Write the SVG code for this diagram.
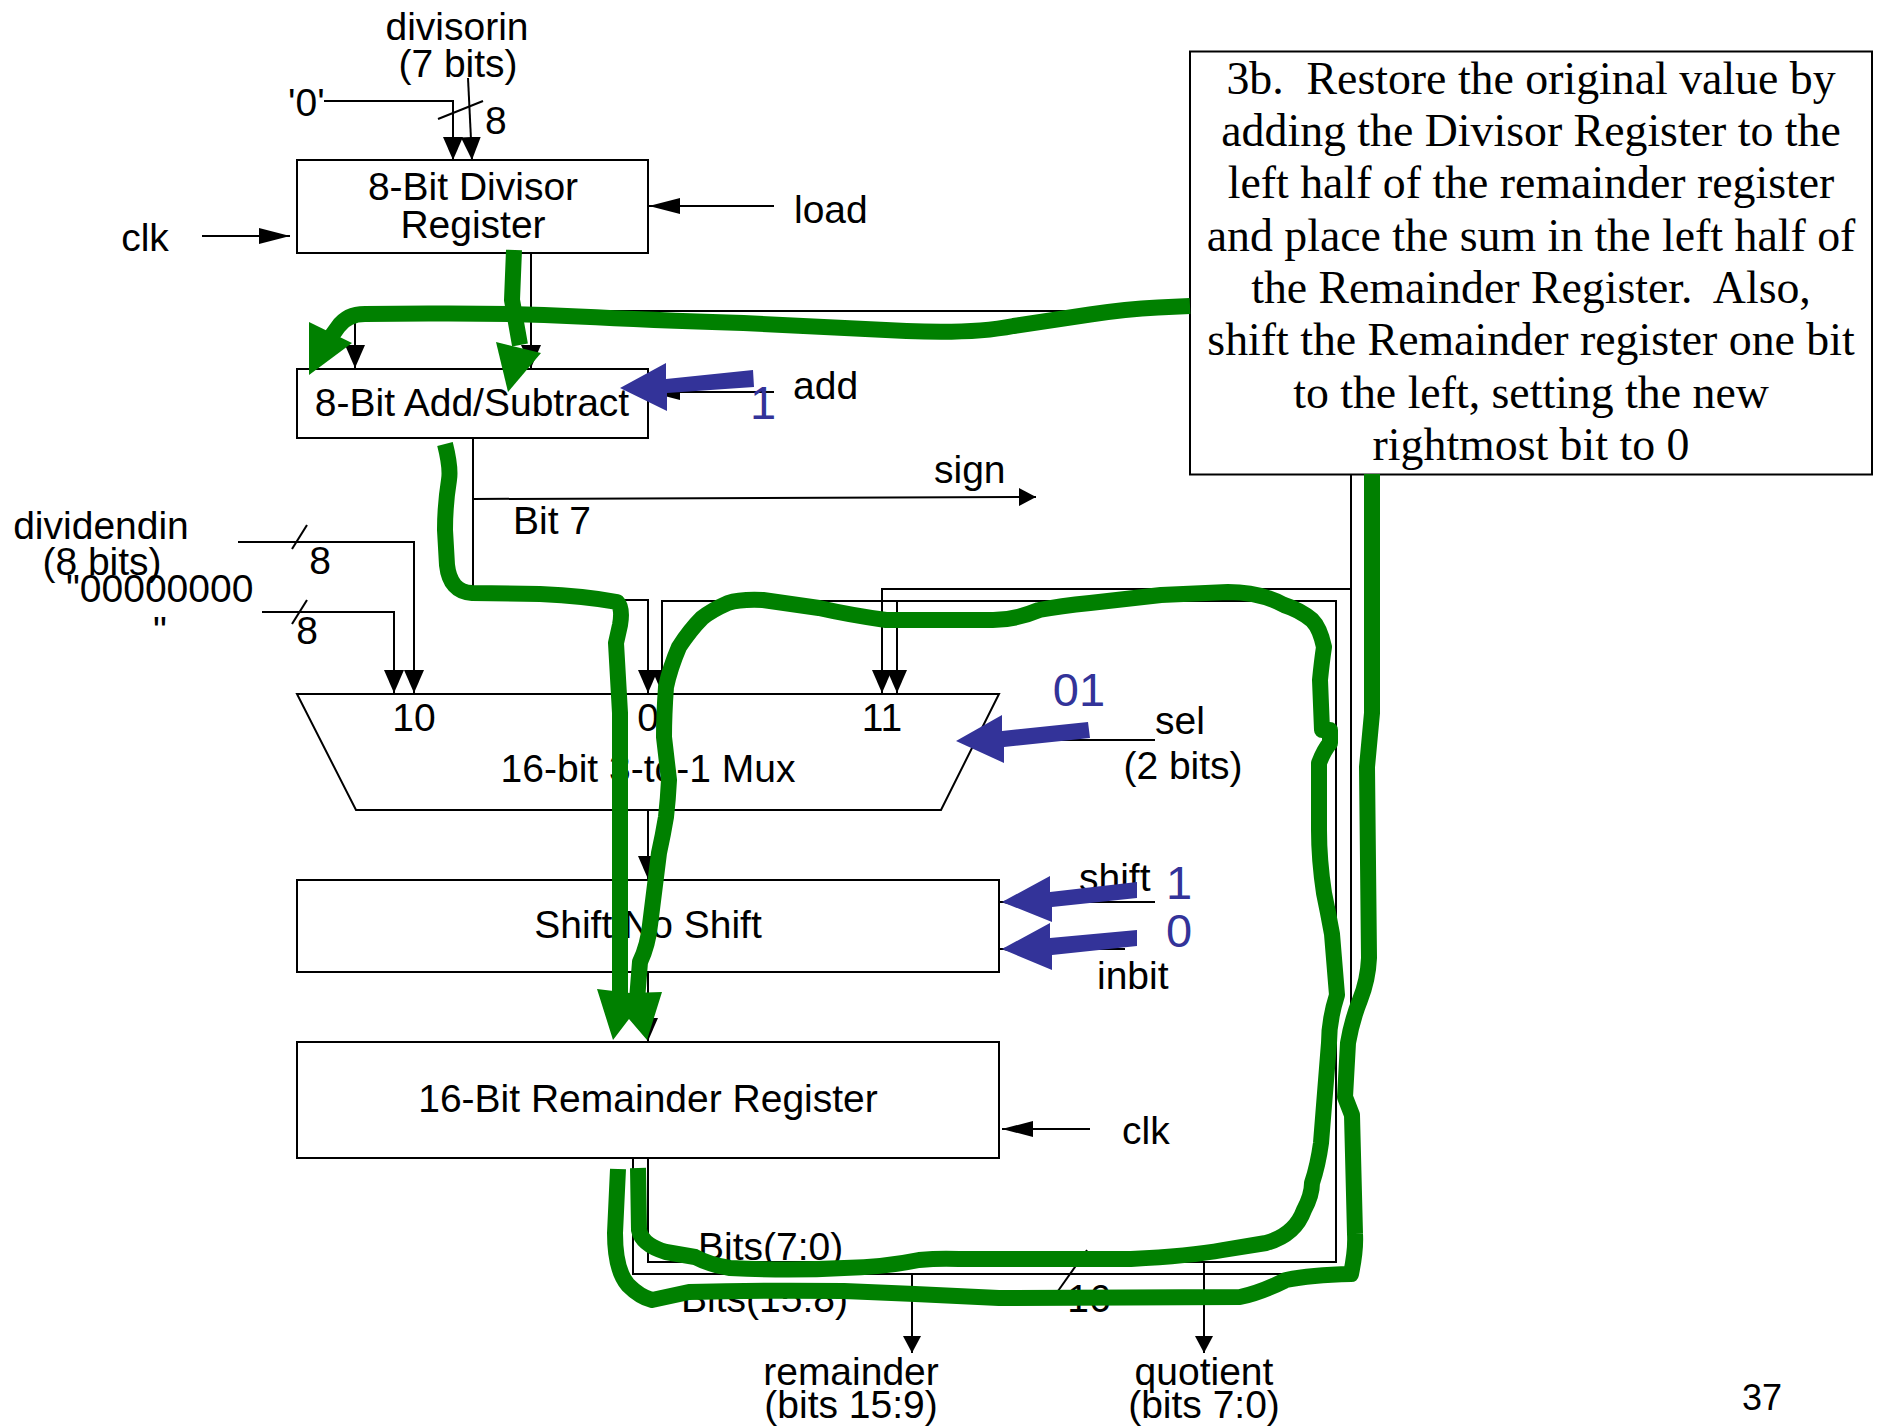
<svg xmlns="http://www.w3.org/2000/svg" width="1879" height="1427" viewBox="0 0 1879 1427">
<style>
text{font-family:"Liberation Sans",Arial,sans-serif;font-size:39px;fill:#000}
.c{text-anchor:middle}
.s{font-family:"Liberation Serif","Times New Roman",serif;font-size:45.8px;white-space:pre}
.b{fill:#333399;font-size:47px;text-anchor:middle}
.box{fill:#fff;stroke:#000;stroke-width:2}
.w{fill:none;stroke:#000;stroke-width:2}
.g{fill:none;stroke:#008000;stroke-width:16;stroke-linejoin:round}
.gh{fill:#008000}
.bl{fill:#333399}
</style>
<defs>
<marker id="v" markerUnits="userSpaceOnUse" markerWidth="24" markerHeight="22" refX="23" refY="10" orient="auto"><path d="M0,0L23,10L0,20z"/></marker>
<marker id="h" markerUnits="userSpaceOnUse" markerWidth="32" markerHeight="18" refX="31" refY="8" orient="auto"><path d="M0,0L31,8L0,16z"/></marker>
<marker id="t" markerUnits="userSpaceOnUse" markerWidth="18" markerHeight="20" refX="17" refY="9" orient="auto"><path d="M0,0L17,9L0,18z"/></marker>
</defs>
<g id="connectors">
<path class="w" marker-end="url(#v)" d="M324,101H453V160"/>
<path class="w" marker-end="url(#v)" d="M468,78L472,160"/>
<path class="w" d="M438,119L483,101"/>
<path class="w" marker-end="url(#h)" d="M202,236H290"/>
<path class="w" marker-end="url(#h)" d="M774,206H649"/>
<path class="w" marker-end="url(#v)" d="M531,253V368"/>
<path class="w" marker-end="url(#v)" d="M1351,474V311H355V368"/>
<path class="w" marker-end="url(#h)" d="M774,392H649"/>
<path class="w" marker-end="url(#v)" d="M473,438V600H648V693"/>
<path class="w" marker-end="url(#t)" d="M473,499L1036,497"/>
<path class="w" marker-end="url(#v)" d="M238,542H414V693"/>
<path class="w" d="M292,549L307,525"/>
<path class="w" marker-end="url(#v)" d="M262,612H394V693"/>
<path class="w" d="M292,624L307,600"/>
<path class="w" marker-end="url(#v)" d="M648,809V879"/>
<path class="w" marker-end="url(#v)" d="M648,972V1041"/>
<path class="w" marker-end="url(#v)" d="M648,1158V1262H1336V601H662V693"/>
<path class="w" marker-end="url(#v)" d="M897,601V693"/>
<path class="w" marker-end="url(#v)" d="M633,1158V1274H1351V589H882V693"/>
<path class="w" d="M1351,474V1274"/>
<path class="w" d="M1155,740H1040"/>
<path class="w" marker-end="url(#h)" d="M1155,902H1000"/>
<path class="w" marker-end="url(#h)" d="M1125,949H1000"/>
<path class="w" marker-end="url(#h)" d="M1090,1129H1002"/>
<path class="w" marker-end="url(#t)" d="M912,1274V1353"/>
<path class="w" marker-end="url(#t)" d="M1204,1262V1353"/>
<path class="w" d="M1058,1291L1087,1250"/>
</g>
<g id="divisor"><rect class="box" x="297" y="160" width="351" height="93"/><text class="c" x="473" y="200">8-Bit Divisor</text><text class="c" x="473" y="238">Register</text></g>
<g id="addsub"><rect class="box" x="297" y="369" width="351" height="69"/><text class="c" x="472" y="416">8-Bit Add/Subtract</text></g>
<g id="mux"><path class="box" d="M297,694H999L941,810H356z"/><text class="c" x="414" y="731">10</text><text class="c" x="648" y="731">0</text><text class="c" x="882" y="731">11</text><text class="c" x="648" y="782">16-bit 3-to-1 Mux</text></g>
<g id="shift"><rect class="box" x="297" y="880" width="702" height="92"/><text class="c" x="648" y="938">Shift/No Shift</text></g>
<g id="remainder"><rect class="box" x="297" y="1042" width="702" height="116"/><text class="c" x="648" y="1112">16-Bit Remainder Register</text></g>
<g id="labels">
<text class="c" x="457" y="40">divisorin</text><text class="c" x="458" y="77">(7 bits)</text>
<text x="288" y="116">'0'</text><text x="485" y="134">8</text>
<text class="c" x="145" y="251">clk</text><text x="794" y="223">load</text><text x="793" y="399">add</text>
<text x="934" y="483">sign</text><text x="513" y="534">Bit 7</text>
<text class="c" x="101" y="539">dividendin</text><text class="c" x="102" y="575">(8 bits)</text>
<text x="66" y="602">"00000000</text><text x="153" y="644">"</text>
<text class="c" x="320" y="574">8</text><text class="c" x="307" y="644">8</text>
<text x="1155" y="734">sel</text><text class="c" x="1183" y="779">(2 bits)</text>
<text x="1079" y="891">shift</text><text x="1097" y="989">inbit</text>
<text x="1122" y="1144">clk</text>
<text x="698" y="1260">Bits(7:0)</text><text x="681" y="1312">Bits(15:8)</text><text class="c" x="1089" y="1312">16</text>
<text class="c" x="851" y="1385">remainder</text><text class="c" x="851" y="1418">(bits 15:9)</text>
<text class="c" x="1204" y="1385">quotient</text><text class="c" x="1204" y="1418">(bits 7:0)</text>
<text x="1742" y="1410" style="font-size:36px">37</text>
</g>
<g id="note"><rect class="box" x="1190" y="51.5" width="682" height="423"/>
<text class="s c" x="1531" y="94">3b.  Restore the original value by</text>
<text class="s c" x="1531" y="146">adding the Divisor Register to the</text>
<text class="s c" x="1531" y="198">left half of the remainder register</text>
<text class="s c" x="1531" y="251">and place the sum in the left half of</text>
<text class="s c" x="1531" y="303">the Remainder Register.  Also,</text>
<text class="s c" x="1531" y="355">shift the Remainder register one bit</text>
<text class="s c" x="1531" y="408">to the left, setting the new</text>
<text class="s c" x="1531" y="460">rightmost bit to 0</text>
</g>
<g id="annotations">
<path class="g" d="M1190,306L1158,307.5Q1126,309 1090,314.5Q1054,320 1013.5,326Q973,334 906.5,331Q840,328 743.5,323Q647,320 578.5,316.5Q510,313 428.5,313.5L365,314Q347,314 338,327L325,345"/>
<path class="gh" d="M309,375L309,322L352,343z"/>
<path class="g" d="M514,250L512,300L520,345"/>
<path class="gh" d="M508,392L496,342L541,353z"/>
<path class="g" d="M445,444Q451,468 449,480Q445,505 445,530L447,565Q450,592 472,593L540,594Q585,596 617,602Q623,608 620,625L616,643L620,713V1000"/>
<path class="g" d="M638,1168L639,1230Q642,1245 666,1252L695,1257Q710,1265 730,1268Q790,1271 844,1268Q885,1267 919,1260Q940,1258 959,1259L1131,1259Q1190,1256 1223,1250L1266,1243Q1295,1235 1304,1210Q1312,1195 1312,1183Q1318,1165 1321,1143L1329,1043Q1329,1020 1337,995Q1334,960 1332,934Q1328,912 1324,893Q1319,860 1319,830L1319,763Q1324,750 1330,743V730H1322L1320,680Q1322,660 1324,647Q1320,628 1312,620Q1300,610 1284,605Q1260,592 1228,592L1161,595L1090,603Q1060,606 1039,610Q1015,620 993,620L886,620Q850,615 819,608L763,600Q740,599 728,603Q712,610 702,618Q690,630 679,647Q670,668 666,687Q664,715 664,737L669,780Q668,800 666,817Q663,835 659,853L650,925Q648,945 640,962L637,1000"/>
<path class="gh" d="M597,989L613,1040L629,1019L647,1040L662,992L630,993z"/>
<path class="g" d="M618,1169L615,1233Q615,1270 628,1285Q640,1297 652,1300L689,1292Q760,1290 844,1291Q920,1294 999,1298L1240,1297Q1260,1293 1286,1280Q1310,1275 1351,1274Q1356,1250 1355,1234L1352,1115L1345,1097L1348,1043Q1352,1020 1360,1000Q1368,980 1369,958L1367,767L1372,713V474"/>
<path class="bl" d="M620,388L666,363V379L753,370L754,387L667,393V411z"/>
<path class="bl" d="M956,741L1002,715V731L1088,722L1090,738L1004,747V763z"/>
<path class="bl" d="M1002,902L1050,876V892L1137,882V898L1052,907V922z"/>
<path class="bl" d="M1002,949L1050,923V938L1137,930V946L1052,955V970z"/>
<text class="b" x="763" y="419">1</text>
<text class="b" x="1079" y="706">01</text>
<text class="b" x="1179" y="899">1</text>
<text class="b" x="1179" y="947">0</text>
</g>
</svg>
